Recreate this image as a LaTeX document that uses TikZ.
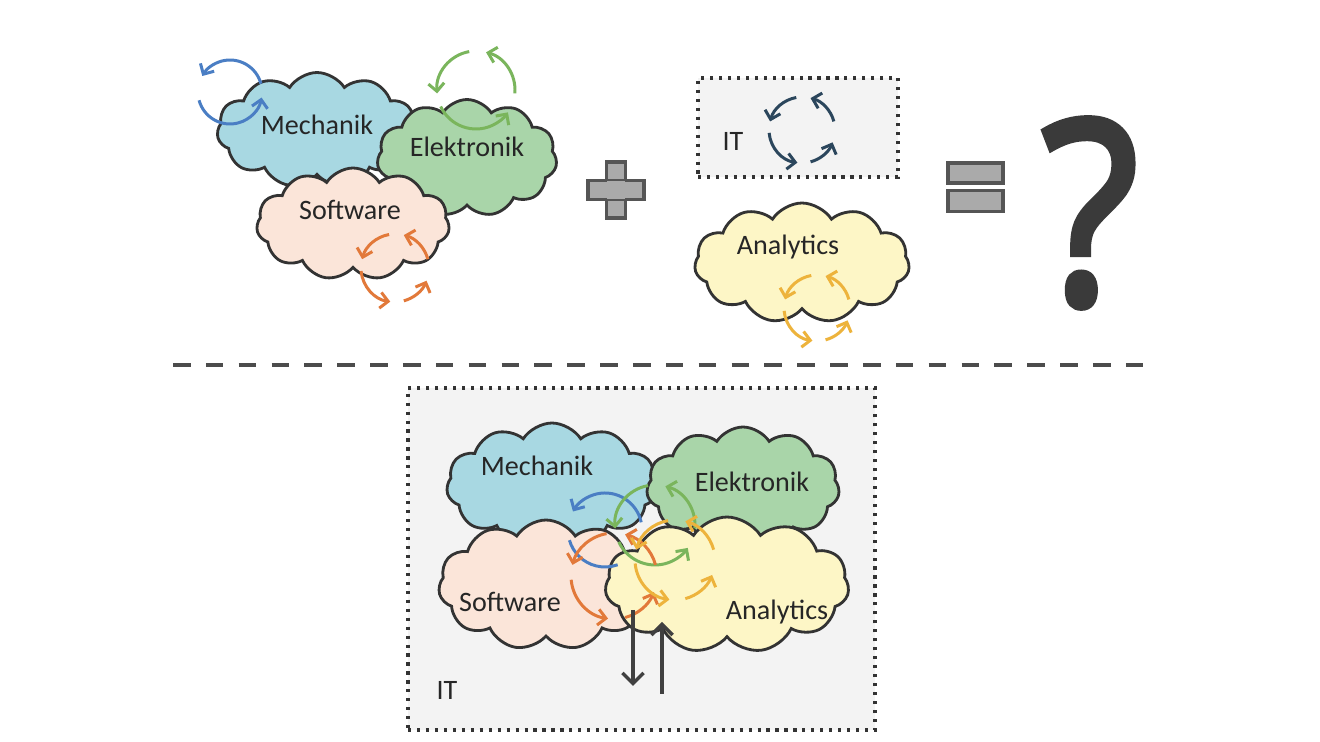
\documentclass[tikz,border=0pt]{standalone}
\usepackage{fontspec}
\setmainfont{Carlito}
\newfontfamily\qfont[FakeBold=3]{Open Sans}
\usetikzlibrary{shapes.symbols,arrows.meta}
\definecolor{mech}{HTML}{A8D8E2}
\definecolor{elek}{HTML}{A9D5A9}
\definecolor{soft}{HTML}{FBE5D9}
\definecolor{anal}{HTML}{FDF6C6}
\definecolor{edge}{HTML}{333333}
\definecolor{cblue}{HTML}{4A7EC4}
\definecolor{cgreen}{HTML}{7AB55C}
\definecolor{corange}{HTML}{E2793A}
\definecolor{cyellow}{HTML}{EDB33C}
\definecolor{cnavy}{HTML}{2B465C}
\definecolor{boxgray}{HTML}{F3F3F3}
\definecolor{symgray}{HTML}{AAAAAA}
\definecolor{symedge}{HTML}{555555}
\definecolor{qgray}{HTML}{3A3A3A}
\tikzset{
  cloudbox/.style={cloud, cloud puffs=11, cloud puff arc=115, cloud ignores aspect,
    draw=edge, line width=1.6pt, inner sep=0pt},
  lbl/.style={font=\fontsize{16}{19}\selectfont, text=black!85, inner sep=0pt},
  itbox/.style={draw=black!80, fill=boxgray, line width=1.8pt, dash pattern=on 1.8pt off 3.3pt},
  cyc/.style={line width=1.7pt, -{Straight Barb[length=4.5pt,width=9pt]}},
  cycplain/.style={line width=1.7pt},
  symbox/.style={fill=symgray, draw=symedge, line width=1.8pt},
  darr/.style={draw=black!75, line width=2pt, -{Straight Barb[length=6pt,width=12pt]}},
  sepline/.style={draw=black!70, line width=2.4pt, dash pattern=on 10pt off 8.7pt}
}
% four-arc cycle: #1 colour, #2 centre, #3 radius
\newcommand\fourcyc[3]{%
  \draw[cyc,#1] (#2) ++(15:#3) arc[start angle=15,end angle=75,radius=#3];
  \draw[cyc,#1] (#2) ++(100:#3) arc[start angle=100,end angle=165,radius=#3];
  \draw[cyc,#1] (#2) ++(185:#3) arc[start angle=185,end angle=262,radius=#3];
  \draw[cyc,#1] (#2) ++(285:#3) arc[start angle=285,end angle=338,radius=#3];}
% three-arc cycle
\newcommand\threecyc[3]{%
  \draw[cyc,#1] (#2) ++(-5:#3) arc[start angle=-5,end angle=75,radius=#3];
  \draw[cyc,#1] (#2) ++(100:#3) arc[start angle=100,end angle=185,radius=#3];
  \draw[cyc,#1] (#2) ++(205:#3) arc[start angle=205,end angle=325,radius=#3];}
\begin{document}
\begin{tikzpicture}[x=0.02cm,y=0.02cm]
\useasboundingbox[fill=white] (0,0) rectangle (1320,-742);

% ---------- top left group ----------
\node[cloudbox, fill=mech, minimum width=4.0cm, minimum height=2.3cm] (tMech) at (317,-130) {};
\node[cloudbox, fill=elek, minimum width=3.6cm, minimum height=2.34cm] (tElek) at (467,-158) {};
\node[cloudbox, fill=soft, minimum width=3.86cm, minimum height=2.24cm] (tSoft) at (353,-224) {};
\node[lbl] (tMechL) at (317,-125) {Mechanik};
\node[lbl] (tElekL) at (467,-147) {Elektronik};
\node[lbl] (tSoftL) at (350,-210) {Software};
\coordinate (cBlueT) at (230,-92);
\draw[cyc,cblue] (cBlueT) ++(15:32) arc[start angle=15,end angle=150,radius=32];
\draw[cyc,cblue] (cBlueT) ++(195:32) arc[start angle=195,end angle=350,radius=32];
\coordinate (cGreenT) at (476,-90);
\threecyc{cgreen}{cGreenT}{39}
\coordinate (cOrangeT) at (395,-268);
\fourcyc{corange}{cOrangeT}{34}

% plus
\node[symbox, minimum width=0.38cm, minimum height=1.12cm, inner sep=0pt] (plusV) at (616,-190) {};
\node[symbox, minimum width=1.12cm, minimum height=0.38cm, inner sep=0pt] (plusH) at (616,-190) {};
\fill[symgray] (607,-181) rectangle (625,-199);

% IT box top
\node[itbox, minimum width=4.0cm, minimum height=1.98cm, inner sep=0pt] (itTop) at (798,-127.5) {};
\node[lbl] (itTopL) at (733,-141) {IT};
\coordinate (cNavy) at (802,-130);
\fourcyc{cnavy}{cNavy}{33}

% Analytics top
\node[cloudbox, fill=anal, minimum width=4.3cm, minimum height=2.4cm] (tAnal) at (802,-263) {};
\node[lbl] (tAnalL) at (788,-247) {Analytics};
\coordinate (cYellowT) at (817,-308);
\fourcyc{cyellow}{cYellowT}{33}

% equals
\node[symbox, minimum width=1.1cm, minimum height=0.4cm, inner sep=0pt] (eqTop) at (975.5,-173) {};
\node[symbox, minimum width=1.1cm, minimum height=0.42cm, inner sep=0pt] (eqBot) at (975.5,-201) {};

% question mark
\node[text=qgray, inner sep=0pt, font=\qfont\fontsize{145}{145}\selectfont] (qmark) at (1090,-213) {\scalebox{0.88}[1]{?}};

% separator
\coordinate (sepL) at (173,-365);
\coordinate (sepR) at (1157,-365);
\draw[sepline] (sepL) -- (sepR);

% ---------- bottom group ----------
\node[itbox, minimum width=9.34cm, minimum height=6.84cm, inner sep=0pt] (itBot) at (641.5,-559) {};
\node[lbl] (itBotL) at (447,-690) {IT};
\node[cloudbox, fill=mech, minimum width=4.22cm, minimum height=2.48cm] (bMech) at (552,-485) {};
\node[cloudbox, fill=elek, minimum width=3.86cm, minimum height=2.4cm] (bElek) at (743,-487) {};
\node[cloudbox, fill=soft, minimum width=4.3cm, minimum height=2.6cm] (bSoft) at (546,-585) {};
\node[cloudbox, fill=anal, minimum width=4.88cm, minimum height=2.72cm] (bAnal) at (727,-585) {};
\node[lbl] (bMechL) at (537,-466) {Mechanik};
\node[lbl] (bElekL) at (752,-482) {Elektronik};
\node[lbl] (bSoftL) at (510,-602) {Software};
\node[lbl] (bAnalL) at (777,-612) {Analytics};

\coordinate (cBlueB) at (605,-530);
\draw[cyc,cblue] (cBlueB) ++(12:37) arc[start angle=12,end angle=150,radius=37];
\draw[cycplain,cblue] (cBlueB) ++(196:37) arc[start angle=196,end angle=290,radius=37];
\coordinate (cGreenB) at (655,-525);
\threecyc{cgreen}{cGreenB}{40}
\coordinate (cOrangeB) at (614,-576);
\fourcyc{corange}{cOrangeB}{43}
\coordinate (cYellowB) at (675,-560);
\fourcyc{cyellow}{cYellowB}{40}

\coordinate (dTop) at (633,-610);
\coordinate (dBot) at (633,-686);
\draw[darr] (dTop) -- (dBot);
\coordinate (uBot) at (662,-694);
\coordinate (uTop) at (662,-622);
\draw[darr] (uBot) -- (uTop);
\end{tikzpicture}
\end{document}
